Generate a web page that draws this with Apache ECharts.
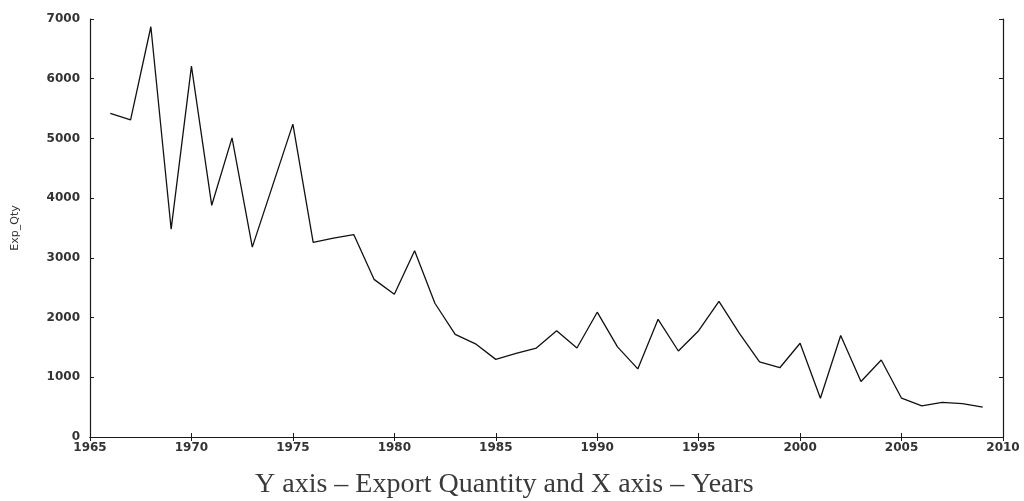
<!DOCTYPE html>
<html>
<head>
<meta charset="utf-8">
<script src="https://cdn.jsdelivr.net/npm/echarts@6/dist/echarts.min.js"></script>
<style>
  html, body { margin: 0; padding: 0; background: #fff; }
  #main { width: 1024px; height: 501px; }
</style>
</head>
<body>
<div id="main"></div>
<script>
// years and export quantity
var years = [1966, 1967, 1968, 1969, 1970, 1971, 1972, 1973, 1974, 1975,
  1976, 1977, 1978, 1979, 1980, 1981, 1982, 1983, 1984, 1985,
  1986, 1987, 1988, 1989, 1990, 1991, 1992, 1993, 1994, 1995,
  1996, 1997, 1998, 1999, 2000, 2001, 2002, 2003, 2004, 2005,
  2006, 2007, 2008, 2009];
var expQty = [5420, 5310, 6870, 3480, 6210, 3880, 5010, 3180, 4210, 5240,
  3260, 3330, 3390, 2640, 2390, 3120, 2240, 1720, 1560, 1300,
  1400, 1490, 1780, 1490, 2090, 1510, 1140, 1970, 1440, 1780,
  2270, 1740, 1260, 1160, 1570, 650, 1700, 930, 1290, 650,
  520, 580, 560, 500];
var caption = 'Y axis \u2013 Export Quantity and X axis \u2013 Years';

var myChart = echarts.init(document.getElementById('main'));

var axisLine = { show: true, lineStyle: { color: '#1a1a1a', width: 1.2 } };
var tick = { show: true, inside: true, length: 4, lineStyle: { color: '#1a1a1a' } };
var plain = function (v) { return String(v); };
var labelFont = { fontFamily: 'DejaVu Sans', fontSize: 12, fontWeight: 'bold', color: '#333', formatter: plain };

var option = {
  backgroundColor: '#fff',
  animation: false,
  title: {
    text: caption,
    left: 250,
    top: 466,
    textStyle: { fontFamily: 'Liberation Serif', fontSize: 28, fontWeight: 'normal', color: '#3a3a3a' }
  },
  grid: { left: 90, right: 21, top: 19, bottom: 64 },
  xAxis: [{
    type: 'value',
    min: 1965, max: 2010, interval: 5,
    axisLine: axisLine, axisTick: tick,
    splitLine: { show: false },
    axisLabel: Object.assign({ margin: 5 }, labelFont)
  }, {
    type: 'value', position: 'top',
    min: 1965, max: 2010, interval: 5,
    axisLine: axisLine, axisTick: tick,
    splitLine: { show: false },
    axisLabel: { show: false }
  }],
  yAxis: [{
    type: 'value',
    min: 0, max: 7000, interval: 1000,
    name: 'Exp_Qty',
    nameLocation: 'middle',
    nameGap: 69,
    nameTextStyle: { fontFamily: 'DejaVu Sans', fontSize: 11, color: '#333' },
    axisLine: axisLine, axisTick: tick,
    splitLine: { show: false },
    axisLabel: Object.assign({ margin: 10 }, labelFont)
  }, {
    type: 'value', position: 'right',
    min: 0, max: 7000, interval: 1000,
    axisLine: axisLine, axisTick: tick,
    splitLine: { show: false },
    axisLabel: { show: false }
  }],
  series: [{
    type: 'line',
    data: years.map(function (y, i) { return [y, expQty[i]]; }),
    showSymbol: false,
    lineStyle: { color: '#111', width: 1.3 }
  }]
};

myChart.setOption(option);
</script>
</body>
</html>
